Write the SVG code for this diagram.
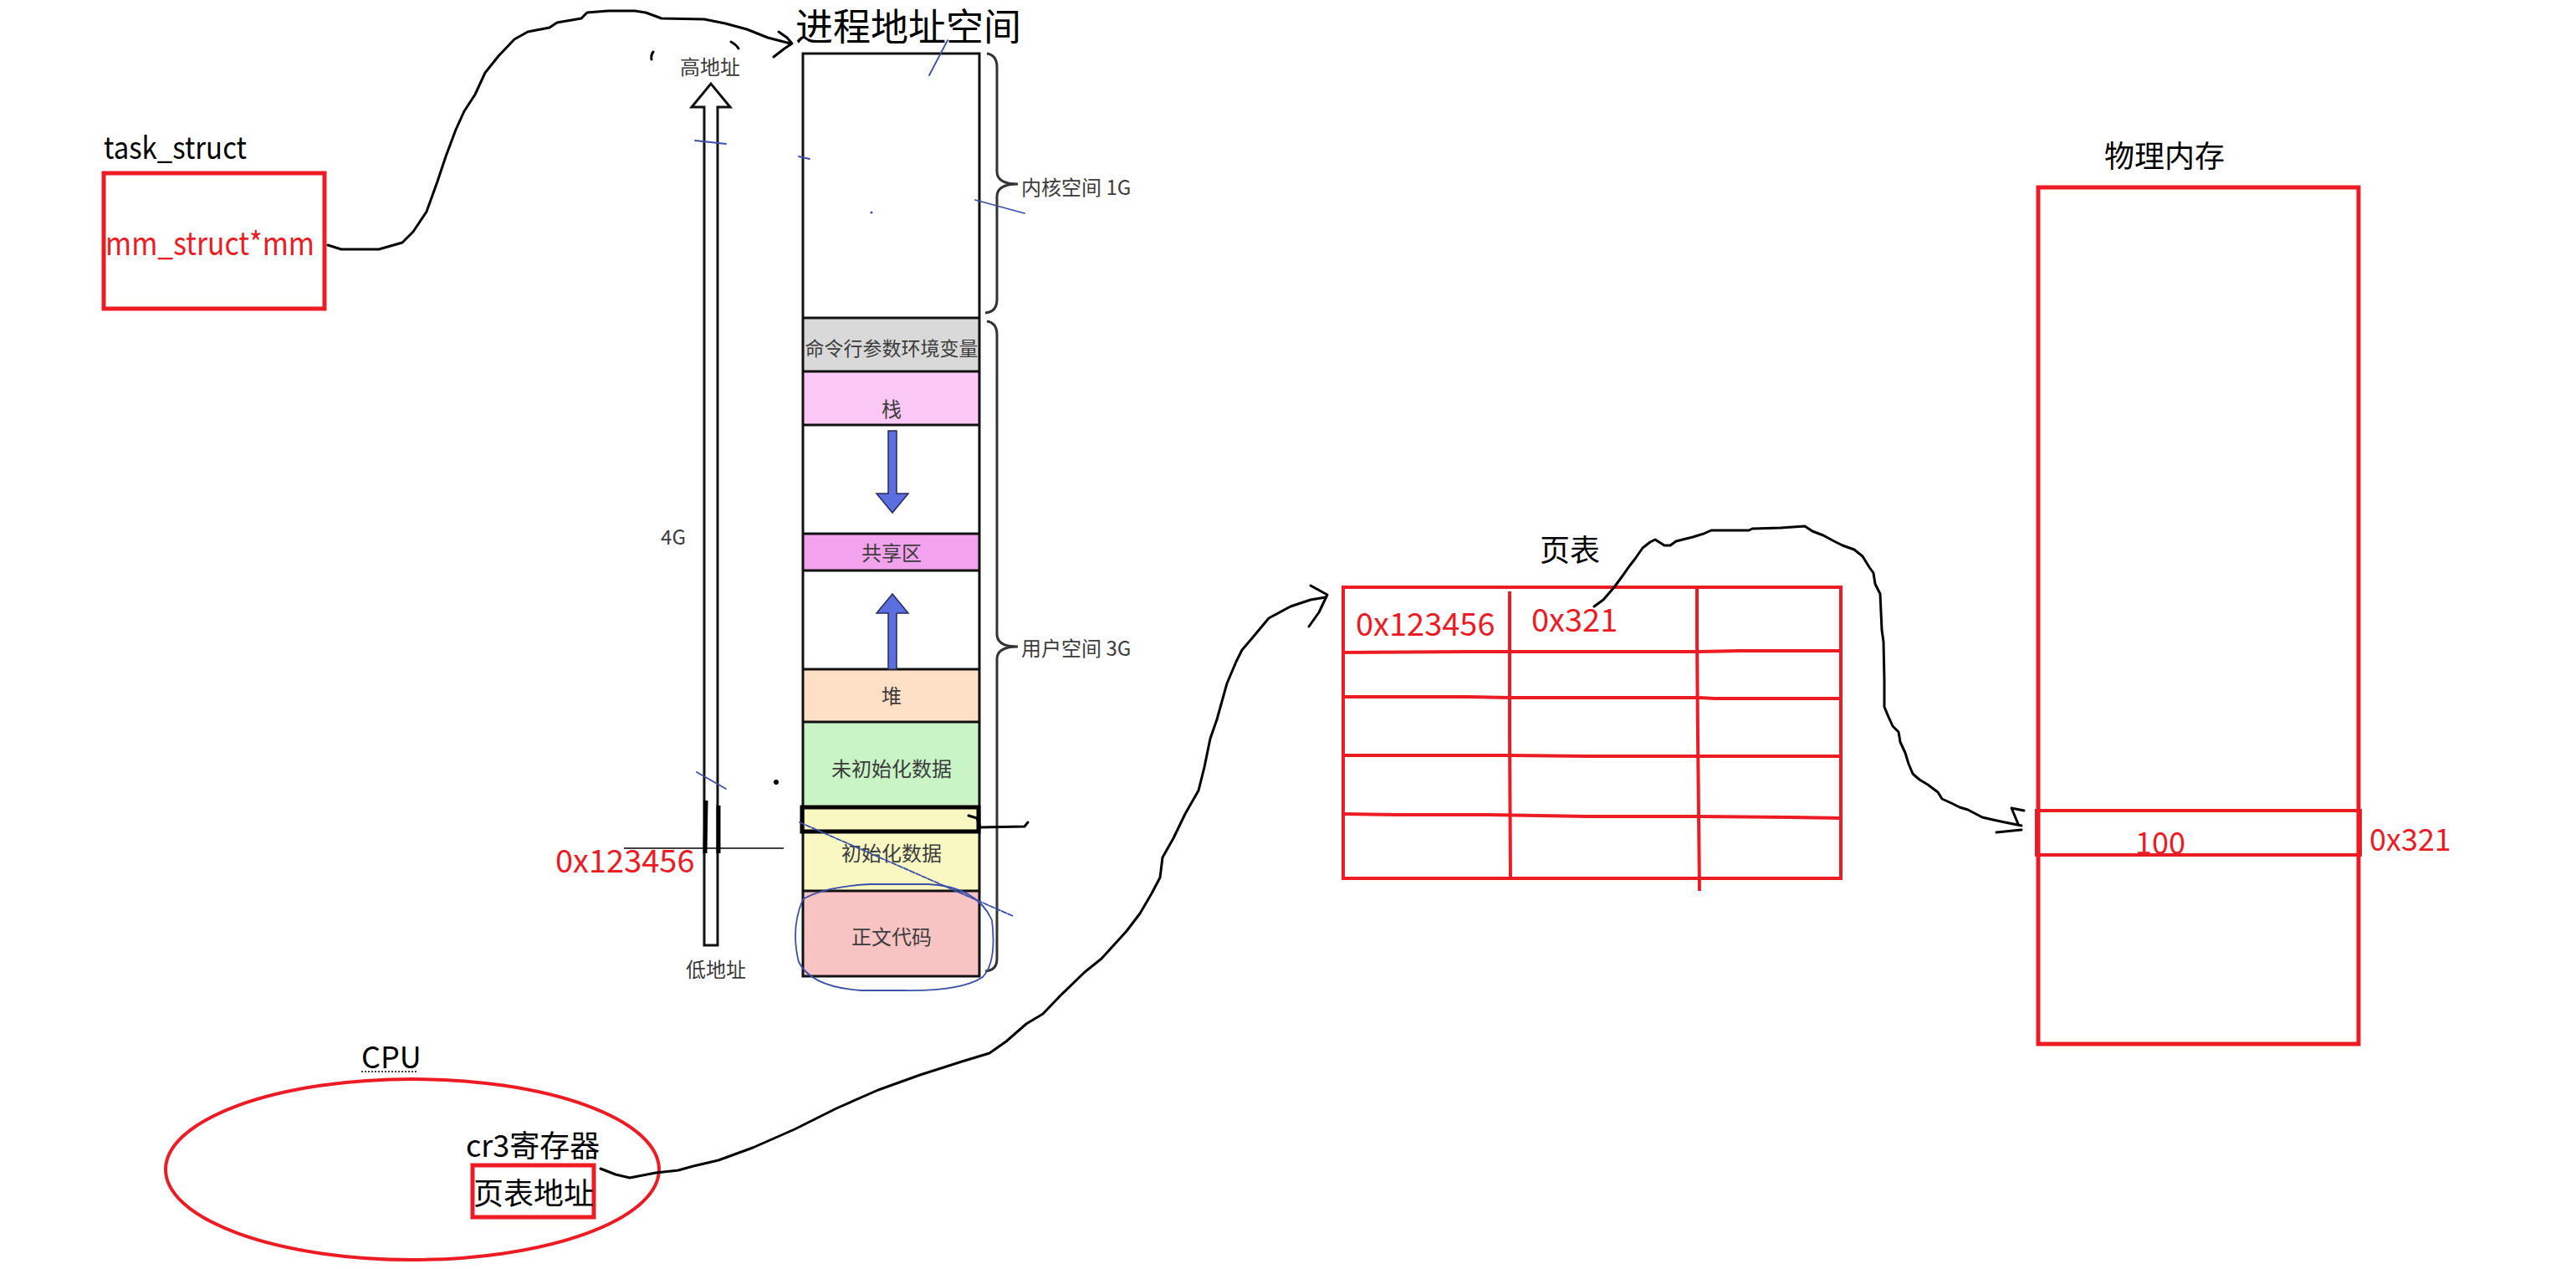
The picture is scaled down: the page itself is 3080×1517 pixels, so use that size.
<svg xmlns="http://www.w3.org/2000/svg" width="3080" height="1517" viewBox="0 0 3080 1517">
<style>
text{font-family:"Noto Sans CJK SC","Noto Sans",sans-serif}
.lbl{font-size:36px;fill:#000}
.red{font-size:38px;fill:#ed1c24}
.gl{font-size:24px;fill:#3c3c3c}
.seg{stroke:#111;stroke-width:3}
.rbox{fill:none;stroke:#ed1c24;stroke-width:5}
.rl{stroke:#ed1c24;stroke-width:4;fill:none}
.pen{fill:none;stroke:#000;stroke-width:3;stroke-linejoin:round;stroke-linecap:round}
.blue{fill:none;stroke:#3a4fa8;stroke-width:1.8;stroke-linecap:round}
.ba{fill:#5b6fe0;stroke:#2a2a55;stroke-width:1.5}
.brace{fill:none;stroke:#333;stroke-width:3}
</style>
<rect width="3080" height="1517" fill="#fff"/>

<g id="task_struct">
<text class="lbl" x="124" y="190" textLength="171" lengthAdjust="spacingAndGlyphs">task_struct</text>
<rect class="rbox" x="124" y="207" width="264" height="162"/>
<text class="red" x="126" y="305" textLength="250" lengthAdjust="spacingAndGlyphs">mm_struct*mm</text>
</g>

<g id="address_space">
<text class="lbl" x="951" y="29" style="font-size:45px" dominant-baseline="central">进程地址空间</text>
<!-- hollow arrow -->
<path d="M842,1130 L858,1130 L858,128 L873,128 L850,100 L827,128 L842,128 Z" fill="#fff" stroke="#111" stroke-width="3" stroke-linejoin="miter"/>
<text class="gl" x="849" y="78" text-anchor="middle" dominant-baseline="central">高地址</text>
<text class="gl" x="856" y="1157" text-anchor="middle" dominant-baseline="central">低地址</text>
<text class="gl" x="805" y="640" text-anchor="middle" dominant-baseline="central">4G</text>
<!-- sections -->
<rect x="960" y="64" width="211" height="316" fill="#fff"/>
<rect x="960" y="380" width="211" height="64" fill="#d9d9d9"/>
<rect x="960" y="444" width="211" height="64" fill="#fcc8f6"/>
<rect x="960" y="638" width="211" height="44" fill="#f3a3ee"/>
<rect x="960" y="800" width="211" height="63" fill="#fde0c6"/>
<rect x="960" y="863" width="211" height="99" fill="#c9f4c6"/>
<rect x="960" y="962" width="211" height="103" fill="#f9f7c2"/>
<rect x="960" y="1065" width="211" height="102" fill="#f8c3c3"/>
<g class="seg">
<line x1="960" y1="380" x2="1171" y2="380"/>
<line x1="960" y1="444" x2="1171" y2="444"/>
<line x1="960" y1="508" x2="1171" y2="508"/>
<line x1="960" y1="638" x2="1171" y2="638"/>
<line x1="960" y1="682" x2="1171" y2="682"/>
<line x1="960" y1="800" x2="1171" y2="800"/>
<line x1="960" y1="863" x2="1171" y2="863"/>
<line x1="960" y1="1065" x2="1171" y2="1065"/>
</g>
<rect x="960" y="64" width="211" height="1103" fill="none" stroke="#111" stroke-width="3"/>
<text class="gl" x="1066" y="415" text-anchor="middle" dominant-baseline="central" style="font-size:23px">命令行参数环境变量</text>
<text class="gl" x="1066" y="487" text-anchor="middle" dominant-baseline="central">栈</text>
<text class="gl" x="1066" y="659" text-anchor="middle" dominant-baseline="central">共享区</text>
<text class="gl" x="1066" y="830" text-anchor="middle" dominant-baseline="central">堆</text>
<text class="gl" x="1066" y="917" text-anchor="middle" dominant-baseline="central">未初始化数据</text>
<text class="gl" x="1066" y="1018" text-anchor="middle" dominant-baseline="central">初始化数据</text>
<text class="gl" x="1066" y="1118" text-anchor="middle" dominant-baseline="central">正文代码</text>
<!-- growth arrows -->
<path class="ba" d="M1062,515 L1072,515 L1072,590 L1086,590 L1067,613 L1048,590 L1062,590 Z"/>
<path class="ba" d="M1062,800 L1072,800 L1072,733 L1086,733 L1067,710 L1048,733 L1062,733 Z"/>
<!-- braces -->
<path class="brace" d="M1180,64 Q1192,66 1192,80 L1192,205 Q1192,220 1217,220 Q1192,220 1192,235 L1192,358 Q1192,373 1178,374"/>
<text class="gl" x="1221" y="222" dominant-baseline="central">内核空间 1G</text>
<path class="brace" d="M1180,384 Q1192,386 1192,400 L1192,758 Q1192,773 1217,773 Q1192,773 1192,788 L1192,1146 Q1192,1160 1178,1161"/>
<text class="gl" x="1221" y="773" dominant-baseline="central">用户空间 3G</text>
<!-- pen annotations -->
<rect x="959" y="965" width="211" height="29" fill="none" stroke="#000" stroke-width="5"/>
<path class="pen" d="M1158,975 L1168,978 L1172,989 L1225,988 L1229,983"/>
<line x1="746" y1="1014" x2="937" y2="1014" stroke="#000" stroke-width="1.5"/>
<line x1="844" y1="957" x2="843" y2="1020" stroke="#000" stroke-width="5"/>
<line x1="859" y1="963" x2="859" y2="1020" stroke="#000" stroke-width="5"/>
<circle cx="928" cy="935" r="3" fill="#000"/>
<path class="pen" d="M781,62 Q778,66 779,71" stroke-width="2.5"/>
<path class="pen" d="M874,50 Q880,53 883,58" stroke-width="2.5"/>
<text class="red" x="664" y="1043">0x123456</text>
<!-- blue marks -->
<line class="blue" x1="1133" y1="48" x2="1111" y2="90"/>
<line class="blue" x1="831" y1="168" x2="868" y2="172"/>
<line class="blue" x1="955" y1="187" x2="968" y2="190"/>
<line class="blue" x1="1166" y1="239" x2="1225" y2="255"/>
<circle cx="1042" cy="254" r="1.5" fill="#3a4fa8"/>
<line class="blue" x1="833" y1="923" x2="868" y2="943"/>
<line class="blue" x1="956" y1="983" x2="1211" y2="1095" stroke-dasharray="6,2"/>
<path class="blue" d="M960,1075 Q985,1060 1040,1057 L1110,1057 Q1168,1060 1186,1100 Q1192,1150 1175,1168 Q1150,1185 1080,1184 L1030,1184 Q970,1180 955,1150 Q945,1110 960,1075 Z"/>
</g>

<g id="cpu">
<text class="lbl" x="432" y="1277">CPU</text>
<line x1="432" y1="1281" x2="499" y2="1281" stroke="#000" stroke-width="1.5" stroke-dasharray="2,2"/>
<ellipse cx="493" cy="1398" rx="295" ry="108" fill="none" stroke="#ed1c24" stroke-width="4"/>
<text class="lbl" x="557" y="1367" dominant-baseline="central">cr3寄存器</text>
<rect class="rbox" x="565" y="1393" width="145" height="62"/>
<text class="lbl" x="566" y="1424" dominant-baseline="central">页表地址</text>
</g>

<g id="page_table">
<text class="lbl" x="1841" y="655" dominant-baseline="central">页表</text>
<rect class="rl" x="1606" y="702" width="595" height="348"/>
<path class="rl" d="M1606,780 L1755,779 L1805,779 L1930,779 L2030,779 L2080,778 L2201,778"/>
<path class="rl" d="M1606,833 L1755,833 L1805,834 L2030,834 L2050,835 L2201,835"/>
<path class="rl" d="M1606,903 L1805,903 L1900,904 L2030,904 L2201,904"/>
<path class="rl" d="M1606,973 L1670,974 L1780,974 L1900,976 L2030,976 L2140,977 L2201,978"/>
<path class="rl" d="M1805,707 L1805,878 L1806,1050"/>
<path class="rl" d="M2029,701 L2029,760 L2030,880 L2032,1065"/>
<text class="red" x="1621" y="760">0x123456</text>
<text class="red" x="1831" y="755">0x321</text>
</g>

<g id="physical_memory">
<text class="lbl" x="2516" y="184" dominant-baseline="central">物理内存</text>
<rect class="rbox" x="2437" y="224" width="383" height="1024"/>
<rect class="rl" x="2435" y="969" width="387" height="53"/>
<text class="red" x="2553" y="1021" style="font-size:36px">100</text>
<text class="red" x="2833" y="1017" style="font-size:36px">0x321</text>
</g>

<g id="connectors">
<path class="pen" d="M392,293 L408,298 L453,298 L481,290 L494,277 L510,253 L523,217 L533,187 L545,155 L555,133 L568,113 L580,87 L596,67 L615,47 L631,38 L657,33 L666,27 L695,22 L702,15 L727,13 L759,13 L772,15 L791,22 L842,23 L867,28 L893,35 L918,45 L945,52"/>
<path class="pen" d="M931,38 L941,45 L947,52 L938,58 L925,68"/>
<path class="pen" d="M718,1397 L736,1404 L753,1408 L784,1402 L811,1399 L829,1394 L859,1387 L900,1372 L950,1350 L1000,1325 L1050,1303 L1100,1285 L1150,1269 L1183,1259 L1203,1245 L1227,1224 L1247,1212 L1267,1191 L1297,1162 L1317,1146 L1347,1113 L1363,1092 L1377,1068 L1387,1049 L1390,1025 L1403,1002 L1417,973 L1433,945 L1440,917 L1447,883 L1455,860 L1467,817 L1478,791 L1485,777 L1497,763 L1517,739 L1543,725 L1567,717 L1585,714"/>
<path class="pen" d="M1567,700 L1587,711 L1577,732 L1565,749"/>
<path class="pen" d="M1906,725 L1917,717 L1930,702 L1941,687 L1948,677 L1955,668 L1964,655 L1973,648 L1979,645 L1990,652 L1997,652 L2004,647 L2024,642 L2037,638 L2046,634 L2091,634 L2095,632 L2129,631 L2158,629 L2167,635 L2180,640 L2193,647 L2203,652 L2217,657 L2227,665 L2235,678 L2240,685 L2242,698 L2248,710 L2250,753 L2252,767 L2253,813 L2253,845 L2258,857 L2263,868 L2270,875 L2272,887 L2278,900 L2282,913 L2287,925 L2295,932 L2305,938 L2317,947 L2322,955 L2333,960 L2343,965 L2353,968 L2370,977 L2383,980 L2397,983 L2417,987"/>
<path class="pen" d="M2420,969 L2405,966 L2413,985 M2387,995 L2417,992"/>
</g>
</svg>
